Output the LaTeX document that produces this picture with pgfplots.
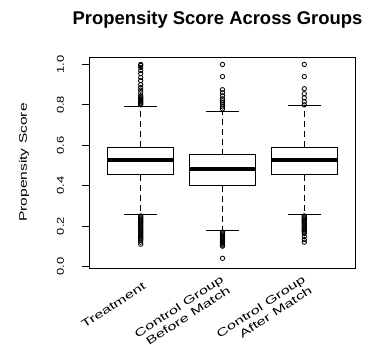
\documentclass[border=0pt]{standalone}
\usepackage{fontspec}
\setmainfont{Liberation Sans}
\usepackage{graphicx}
\usepackage{pgfplots}
\pgfplotsset{compat=1.18}
\usepgfplotslibrary{statistics}
\newcommand\sx[2]{\scalebox{#1}[1]{#2}}
\newcommand\twol[2]{\sx{1.5}{\begin{tabular}{@{}r@{}}#1\\#2\end{tabular}}}
\begin{document}
\begin{tikzpicture}
\begin{axis}[
  scale only axis,
  width=265bp, height=211bp,
  xmin=0.38, xmax=3.62,
  ymin=-0.008, ymax=1.037,
  axis line style={line width=1bp},
  xtick={1,2,3},
  xticklabels={\sx{1.5}{Treatment},{\twol{Control Group}{Before Match}},{\twol{Control Group}{After Match}}},
  xtick style={draw=none},
  xticklabel style={yshift=-9bp, xshift=4bp, rotate=33, anchor=east,
    font=\fontsize{11}{12.5}\selectfont, inner sep=0pt},
  ytick={0,0.2,0.4,0.6,0.8,1.0},
  yticklabels={\sx{1.3}{0.0},\sx{1.3}{0.2},\sx{1.3}{0.4},\sx{1.3}{0.6},\sx{1.3}{0.8},\sx{1.3}{1.0}},
  ytick pos=left,
  tick align=outside,
  major tick length=8bp,
  ytick style={line width=0.9bp, black},
  yticklabel style={xshift=-18bp, rotate=90, anchor=base, font=\fontsize{10}{12}\selectfont, inner sep=0pt},
  ylabel={\sx{1.42}{Propensity Score}},
  ylabel style={at={(rel axis cs:0,0.5)}, anchor=base, yshift=63bp, font=\fontsize{11}{13}\selectfont, inner sep=0pt},
  title={Propensity Score Across Groups},
  title style={at={(rel axis cs:0.5,1)}, anchor=base, yshift=27bp, xshift=-5bp, font=\fontsize{18.5}{21}\selectfont\bfseries, inner sep=0pt},
  boxplot/draw direction=y,
  boxplot/box extend=0.8,
  boxplot/whisker extend=0.4,
  boxplot/draw/lower whisker/.code={%
    \draw[black, line width=0.9bp, dash pattern=on 6bp off 4bp]
      (boxplot box cs:\pgfplotsboxplotvalue{lower quartile},0.5) --
      (boxplot box cs:\pgfplotsboxplotvalue{lower whisker},0.5);
    \draw[black, line width=1bp]
      (boxplot whisker cs:\pgfplotsboxplotvalue{lower whisker},0) --
      (boxplot whisker cs:\pgfplotsboxplotvalue{lower whisker},1);
  },
  boxplot/draw/upper whisker/.code={%
    \draw[black, line width=0.9bp, dash pattern=on 6bp off 4bp]
      (boxplot box cs:\pgfplotsboxplotvalue{upper quartile},0.5) --
      (boxplot box cs:\pgfplotsboxplotvalue{upper whisker},0.5);
    \draw[black, line width=1bp]
      (boxplot whisker cs:\pgfplotsboxplotvalue{upper whisker},0) --
      (boxplot whisker cs:\pgfplotsboxplotvalue{upper whisker},1);
  },
  boxplot/every box/.style={draw=black, fill=white, line width=1bp},
  boxplot/every median/.style={draw=black, line width=4bp},
]
% Treatment
\addplot[black, mark=o, mark size=2.2bp, mark options={line width=0.8bp},
  boxplot prepared={draw position=1, lower whisker=0.257, lower quartile=0.455,
    median=0.529, upper quartile=0.591, upper whisker=0.793}]
  coordinates {
   (0,0.80)(0,0.805)(0,0.81)(0,0.815)(0,0.82)(0,0.825)(0,0.83)(0,0.835)(0,0.84)(0,0.845)
   (0,0.86)(0,0.873)(0,0.886)(0,0.90)(0,0.92)(0,0.935)(0,0.955)(0,0.97)(0,0.985)(0,0.995)(0,1.0)
   (0,0.25)(0,0.245)(0,0.24)(0,0.235)(0,0.23)(0,0.225)(0,0.22)(0,0.215)(0,0.21)(0,0.205)
   (0,0.20)(0,0.195)(0,0.19)(0,0.185)(0,0.18)(0,0.175)(0,0.17)(0,0.165)(0,0.16)(0,0.155)
   (0,0.15)(0,0.145)(0,0.14)(0,0.135)(0,0.13)(0,0.12)(0,0.11)
  };
% Control before match
\addplot[black, mark=o, mark size=2.2bp, mark options={line width=0.8bp},
  boxplot prepared={draw position=2, lower whisker=0.177, lower quartile=0.400,
    median=0.481, upper quartile=0.554, upper whisker=0.768}]
  coordinates {
   (0,0.78)(0,0.79)(0,0.80)(0,0.81)(0,0.82)(0,0.83)(0,0.845)(0,0.86)(0,0.875)(0,0.94)(0,1.0)
   (0,0.17)(0,0.165)(0,0.16)(0,0.155)(0,0.15)(0,0.145)(0,0.14)(0,0.135)(0,0.13)(0,0.125)
   (0,0.12)(0,0.115)(0,0.11)(0,0.105)(0,0.10)(0,0.04)
  };
% Control after match
\addplot[black, mark=o, mark size=2.2bp, mark options={line width=0.8bp},
  boxplot prepared={draw position=3, lower whisker=0.257, lower quartile=0.455,
    median=0.529, upper quartile=0.591, upper whisker=0.795}]
  coordinates {
   (0,0.80)(0,0.815)(0,0.835)(0,0.855)(0,0.88)(0,0.94)(0,1.0)
   (0,0.25)(0,0.245)(0,0.24)(0,0.235)(0,0.23)(0,0.225)(0,0.22)(0,0.215)(0,0.21)(0,0.205)
   (0,0.20)(0,0.195)(0,0.19)(0,0.185)(0,0.18)(0,0.175)(0,0.17)(0,0.163)(0,0.148)(0,0.133)(0,0.12)
  };
\coordinate (SW) at (rel axis cs:0,0);
\coordinate (NE) at (rel axis cs:1,1);
\end{axis}
\pgfresetboundingbox
\path ([shift={(-90bp,-77bp)}]SW) rectangle ([shift={(17bp,57bp)}]NE);
\end{tikzpicture}
\end{document}
